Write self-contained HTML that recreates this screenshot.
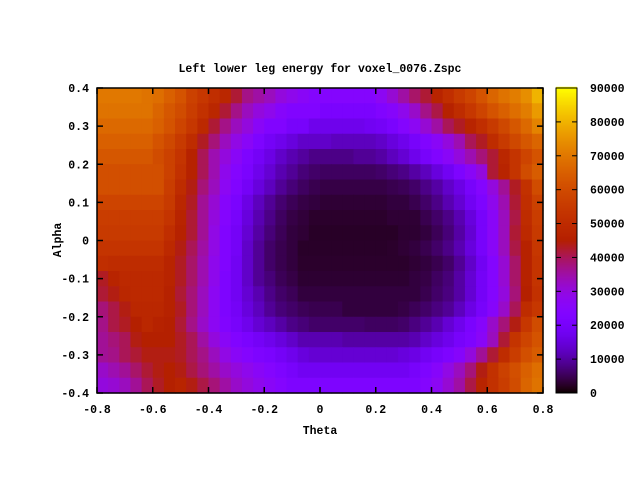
<!DOCTYPE html>
<html><head><meta charset="utf-8"><style>
html,body{margin:0;padding:0;background:#fff;}
svg{display:block;font-family:"Liberation Mono",monospace;font-size:11.5px;font-weight:bold;}
</style></head><body>
<svg id="chart" width="640" height="480" viewBox="0 0 640 480" xmlns="http://www.w3.org/2000/svg">
<rect width="640" height="480" fill="#fff"/>
<text x="320" y="72" text-anchor="middle">Left lower leg energy for voxel_0076.Zspc</text>
<g id="cells"></g>
<g id="cbar"></g>
<g id="axes"></g>
<text x="320" y="434" text-anchor="middle">Theta</text>
<text transform="translate(61,240) rotate(-90)" text-anchor="middle">Alpha</text>
</svg>
<script>
const xTicks=[-0.8,-0.6,-0.4,-0.2,0,0.2,0.4,0.6,0.8];
const xTickLabels=["-0.8","-0.6","-0.4","-0.2","0","0.2","0.4","0.6","0.8"];
const yTicks=[-0.4,-0.3,-0.2,-0.1,0,0.1,0.2,0.3,0.4];
const yTickLabels=["-0.4","-0.3","-0.2","-0.1","0","0.1","0.2","0.3","0.4"];
const cbTicks=[0,10000,20000,30000,40000,50000,60000,70000,80000,90000];
const cbTickLabels=["0","10000","20000","30000","40000","50000","60000","70000","80000","90000"];
// rows from alpha=0.38 (top) down to -0.38; columns theta -0.78..0.78; values in thousands
const thetaCenters=[-0.78,-0.74,-0.70,-0.66,-0.62,-0.58,-0.54,-0.50,-0.46,-0.42,-0.38,-0.34,-0.30,-0.26,-0.22,-0.18,-0.14,-0.10,-0.06,-0.02,0.02,0.06,0.10,0.14,0.18,0.22,0.26,0.30,0.34,0.38,0.42,0.46,0.50,0.54,0.58,0.62,0.66,0.70,0.74,0.78];
const alphaCenters=[0.38,0.34,0.30,0.26,0.22,0.18,0.14,0.10,0.06,0.02,-0.02,-0.06,-0.10,-0.14,-0.18,-0.22,-0.26,-0.30,-0.34,-0.38];
const energy=[
[70,70,70,70,69,68,65,62,57,54,51,48,42,37,35,33,30,28,26,24,24,24,24,24,24,27,31,35,39,42,47,51,55,58,62,66,69,71,74,80],
[69,69,69,69,69,66,63,60,56,52,48,42,37,33,30,28,25,23,23,23,21,21,21,21,21,23,25,28,32,37,41,46,50,54,58,62,65,68,71,76],
[67,67,67,67,67,65,62,58,54,49,42,37,33,30,26,23,23,20,20,17,17,17,17,17,18,19,21,24,27,31,35,40,43,47,51,55,59,63,67,72],
[65,65,65,65,65,62,59,55,50,43,38,33,29,26,22,19,17,15,13,13,13,12,12,12,12,13,15,17,20,23,26,30,34,40,43,50,55,59,63,66],
[63,63,63,63,63,60,57,53,46,40,34,30,26,22,19,16,13,11,9.5,8,8,8,8,9,9,10,12,14,17,20,23,26,30,34,38,42,48,53,58,62],
[61,61,61,61,61,61,57,52,46,40,34,28,24,21,17,14,11,9,7,6,5.5,5.5,5.5,5.5,5.5,6,7,8,10,12,15,18,22,26,30,42,47,53,60,64],
[61,61,61,61,61,61,56,50,44,38,33,27,23,19,15,12,9,7,5.5,4.5,4,4,4,4,4,4,4.5,5,6,8,10,13,16,20,24,30,36,43,52,60],
[58,58,58,58,58,58,55,48,43,36,31,25,21,16,12,9,6.5,5,4,3.5,3,3,3,3,3,3,3.5,3.5,4.5,6,8,11,14,18,22,28,34,42,51,57],
[56,56,56,56,56,56,53,47,42,36,30,24,20,15,11,8,5.5,4,3.3,2.5,2.5,2.5,2.5,2.5,2.5,2.5,3,3,3,4.5,6,8,11,15,20,26,33,41,50,56],
[55,55,55,55,55,55,51,46,42,36,29,23,19,14,10,7,5,3.5,3,2.2,2.2,2.2,2.2,2.2,2.2,2.2,2.2,2.8,2.8,3.5,5,7,10,14,20,26,33,42,49,55],
[53,53,53,53,53,53,49,44,40,35,29,23,19,13,9,6,4.5,3.5,2.3,2.3,2.3,2.3,2.3,2.3,2.3,2.3,2.5,3,3.5,4.5,6,8,11,15,20,26,33,41,46,54],
[51,50,50,50,50,50,47,43,39,34,28,23,18,13,9,6,4.5,3.5,2.5,2.5,2.5,2.5,2.5,2.5,2.5,2.5,2.5,2.5,3,3.5,4.5,6,9,13,18,24,31,39,46,53],
[43,47,49,49,49,49,47,43,39,34,28,22,18,13,9,7,5,4,2.8,2.8,2.8,2.8,2.8,2.8,2.8,2.8,2.8,2.8,3.5,4,5.5,7,10,14,19,24,31,39,46,53],
[42,44,48,49,49,49,46,42,38,33,27,22,18,14,11,8,6,5,3.5,3.5,3.5,3.5,3.5,3.5,3.5,3.5,3.5,3.5,3.5,4.5,6,7.5,10,14,19,24,30,38,45,52],
[38,41,44,48,48,48,46,43,38,33,27,22,19,15,12,9,7,6,5,4.5,4.5,4.5,3.5,3.5,3.5,3.5,3.5,4,5,6,7.5,9,12,16,20,25,32,40,50,54],
[37,41,43,45,48,46,45,42,37,32,27,23,20,17,14,12,10,8,7,6,6,6,6,6,5.5,5.5,5.5,6,7.5,9,11,14,17,21,25,32,38,44,54,60],
[36,38,40,44,45,45,45,43,40,35,30,26,23,21,19,17,15,13,11,11,11,11,10,10,10,10,10,10,11,13,15,17,20,22,26,33,42,53,58,62],
[36,37,40,42,44,44,44,43,40,37,33,29,26,24,22,21,19,17,15,14,14,14,14,14,14,14,14,15,16,18,20,22,25,30,36,42,50,56,61,64],
[32,34,36,39,42,44,45,44,41,38,35,32,30,28,26,24,22,20,18,18,18,18,18,18,18,18,18,18,20,22,25,29,33,38,44,52,57,61,65,68],
[30,31,33,36,40,43,45,47,44,41,38,35,32,30,28,26,24,22,22,22,22,22,22,22,22,22,22,22,22,24,27,31,35,41,47,52,56,60,66,69]
];
const NS="http://www.w3.org/2000/svg";
const L=97,R=543,T=88,B=393;
const xMin=-0.8,xMax=0.8,yMin=-0.4,yMax=0.4,zMax=90000;
const sx=v=>L+(v-xMin)/(xMax-xMin)*(R-L);
const sy=v=>B-(v-yMin)/(yMax-yMin)*(B-T);
const cw=0.04,ch=0.04;
function pal(z){
  let x=Math.max(0,Math.min(1,z/zMax));
  let r=Math.sqrt(x),g=x*x*x,b=Math.max(0,Math.sin(2*Math.PI*x));
  const c=v=>Math.round(Math.min(1,v)*255);
  return `rgb(${c(r)},${c(g)},${c(b)})`;
}
function mk(tag,attrs,parent){const e=document.createElementNS(NS,tag);for(const k in attrs)e.setAttribute(k,attrs[k]);parent.appendChild(e);return e;}
const cells=document.getElementById('cells');
for(let j=0;j<alphaCenters.length;j++){
  for(let i=0;i<thetaCenters.length;i++){
    const x0=sx(thetaCenters[i]-cw/2),x1=sx(thetaCenters[i]+cw/2);
    const y0=sy(alphaCenters[j]+ch/2),y1=sy(alphaCenters[j]-ch/2);
    const r=mk('rect',{x:x0,y:y0,width:x1-x0+0.6,height:y1-y0+0.6,fill:pal(energy[j][i]*1000)},cells);
    
    
  }
}
// colorbar
const cb=document.getElementById('cbar');
const CL=556,CR=577;
const cy=v=>B-v/zMax*(B-T);
for(let k=0;k<=305;k++){
  const z=k/305*zMax;
  mk('rect',{x:CL,y:cy(z)-1.2,width:CR-CL,height:1.4,fill:pal(z)},cb);
}
mk('rect',{x:CL,y:T,width:CR-CL,height:B-T,fill:'none',stroke:'#000','stroke-width':1},cb);
cbTicks.forEach((t,i)=>{
  const y=cy(t);
  mk('line',{x1:CL,x2:CL+5,y1:y,y2:y,stroke:'#000'},cb);
  mk('line',{x1:CR-5,x2:CR,y1:y,y2:y,stroke:'#000'},cb);
  const tx=mk('text',{x:590,y:y+4},cb);tx.textContent=cbTickLabels[i];
  
  
});
// axes
const ax=document.getElementById('axes');
mk('rect',{x:L,y:T,width:R-L,height:B-T,fill:'none',stroke:'#000','stroke-width':1.5},ax);
xTicks.forEach((t,i)=>{
  const x=sx(t);
  mk('line',{x1:x,x2:x,y1:B,y2:B-6,stroke:'#000','stroke-width':1.5},ax);
  mk('line',{x1:x,x2:x,y1:T,y2:T+6,stroke:'#000','stroke-width':1.5},ax);
  const tx=mk('text',{x:x,y:B+20,'text-anchor':'middle'},ax);tx.textContent=xTickLabels[i];
  
  
});
yTicks.forEach((t,i)=>{
  const y=sy(t);
  mk('line',{x1:L,x2:L+6,y1:y,y2:y,stroke:'#000','stroke-width':1.5},ax);
  mk('line',{x1:R,x2:R-6,y1:y,y2:y,stroke:'#000','stroke-width':1.5},ax);
  const tx=mk('text',{x:L-8,y:y+4,'text-anchor':'end'},ax);tx.textContent=yTickLabels[i];
  
  
});
</script>
</body></html>
